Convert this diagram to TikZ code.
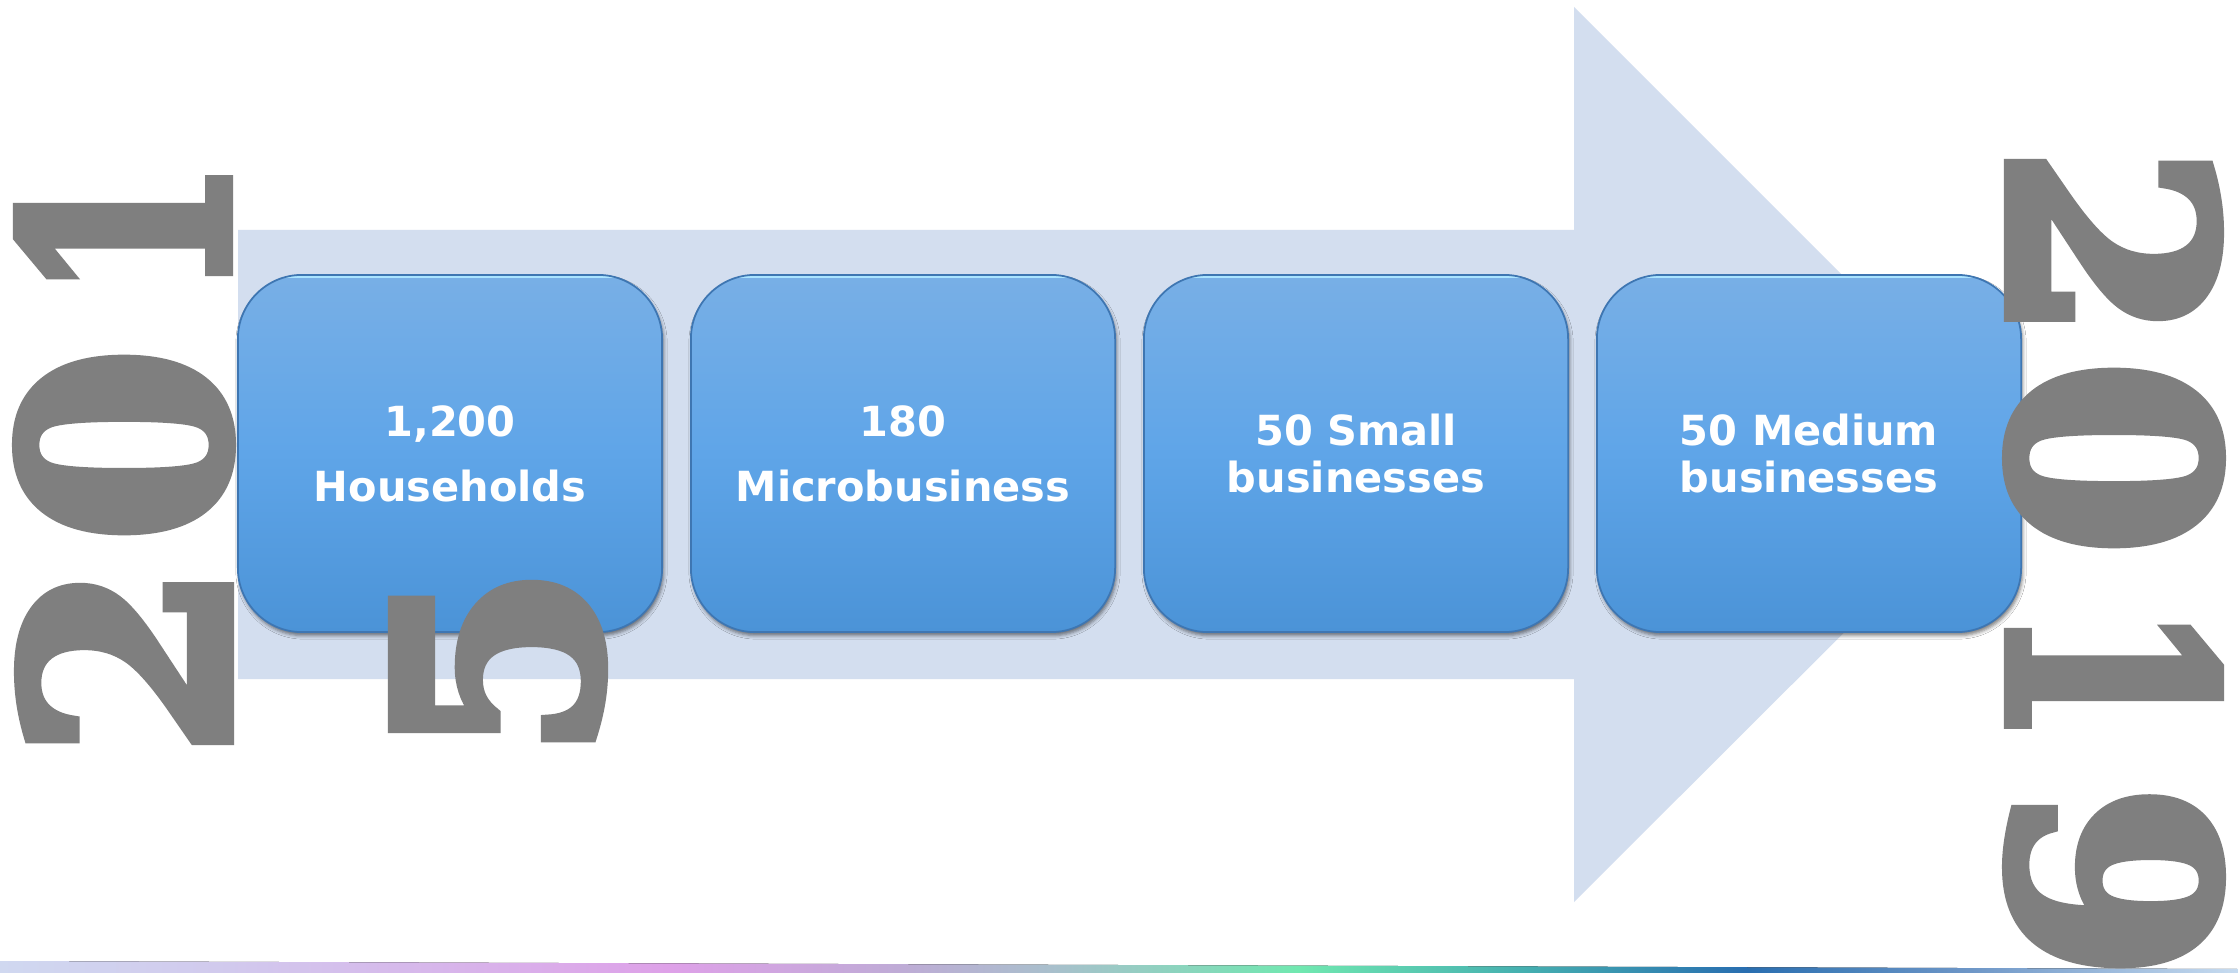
\documentclass[tikz,border=0pt]{standalone}
\usepackage{fontspec}
\usetikzlibrary{shadows.blur}
\newfontfamily\boxfont{DejaVu Sans}
\newfontfamily\yearfont[FakeBold=4]{DejaVu Serif Bold}
\definecolor{arrowfill}{RGB}{211,222,239}
\definecolor{yeargray}{RGB}{127,127,127}
\definecolor{boxtop}{RGB}{120,175,230}
\definecolor{boxmid}{RGB}{95,165,232}
\definecolor{boxbot}{RGB}{75,147,215}
\definecolor{boxedge}{RGB}{62,118,178}
\definecolor{boxhl}{RGB}{170,228,255}
\pgfdeclarehorizontalshading{bandshade}{100bp}{rgb(0bp)=(0.815,0.847,0.941); rgb(25bp)=(0.815,0.847,0.941); rgb(30bp)=(0.82,0.79,0.93); rgb(40bp)=(0.87,0.63,0.91); rgb(45bp)=(0.75,0.67,0.84); rgb(48.5bp)=(0.66,0.75,0.80); rgb(54bp)=(0.44,0.91,0.69); rgb(59bp)=(0.27,0.69,0.69); rgb(64bp)=(0.16,0.43,0.69); rgb(69bp)=(0.43,0.59,0.78); rgb(75bp)=(0.78,0.86,0.94); rgb(100bp)=(0.78,0.86,0.94)}
\tikzset{
  stepbox/.style={rounded corners=0.64cm, minimum width=4.24cm, minimum height=3.57cm,
    inner sep=0pt, draw=boxedge, line width=0.5pt,
    top color=boxtop, bottom color=boxbot, middle color=boxmid,
    text=white, align=center,
    blur shadow={shadow xshift=0.015cm, shadow yshift=-0.035cm, shadow blur radius=0.035cm, shadow opacity=50},
    path picture={\draw[boxhl, line width=0.05cm]
      ([yshift=-0.01cm]path picture bounding box.north west) --
      ([yshift=-0.01cm]path picture bounding box.north east);}},
  loosetext/.style={font=\boxfont\bfseries\fontsize{11.8pt}{18.5pt}\selectfont},
  tighttext/.style={font=\boxfont\bfseries\fontsize{11.8pt}{13.4pt}\selectfont},
  yeardigit/.style={font=\yearfont\fontsize{80pt}{80pt}\selectfont,
    text=yeargray, inner sep=0pt}
}
\begin{document}
\begin{tikzpicture}[x=0.01cm,y=-0.01cm]
\useasboundingbox (0,0) rectangle (2238,973);
\fill[white] (0,0) rectangle (2238,973);
% bottom band
\fill[shading=bandshade] (0,961) -- (2238,969) -- (2238,973) -- (0,973) -- cycle;
% big arrow
\fill[arrowfill] (238,230) -- (1574,230) -- (1574,7) -- (2022,455) -- (1574,902)
  -- (1574,679) -- (238,679) -- cycle;
% boxes
\node[stepbox, loosetext] (b1) at (450,453.5) {1,200\\Households};
\node[stepbox, loosetext] (b2) at (903,453.5) {180\\Microbusiness};
\node[stepbox, tighttext] (b3) at (1356,453.5) {50 Small\\businesses};
\node[stepbox, tighttext] (b4) at (1809,453.5) {50 Medium\\businesses};
% year 2015
\node[yeardigit, rotate=90] (l2) at (124,660.5) {2};
\node[yeardigit, rotate=90] (l0) at (124,445) {0};
\node[yeardigit, rotate=90] (l1) at (123,229.5) {\scalebox{0.72}[1]{1}};
\node[yeardigit, rotate=90] (l5) at (498,662) {5};
% year 2019
\node[yeardigit, rotate=-90] (r2) at (2114,243.5) {2};
\node[yeardigit, rotate=-90] (r0) at (2114,458) {0};
\node[yeardigit, rotate=-90] (r1) at (2114,674.5) {\scalebox{0.72}[1]{1}};
\node[yeardigit, rotate=-90] (r9) at (2114,882.5) {9};
\end{tikzpicture}
\end{document}
